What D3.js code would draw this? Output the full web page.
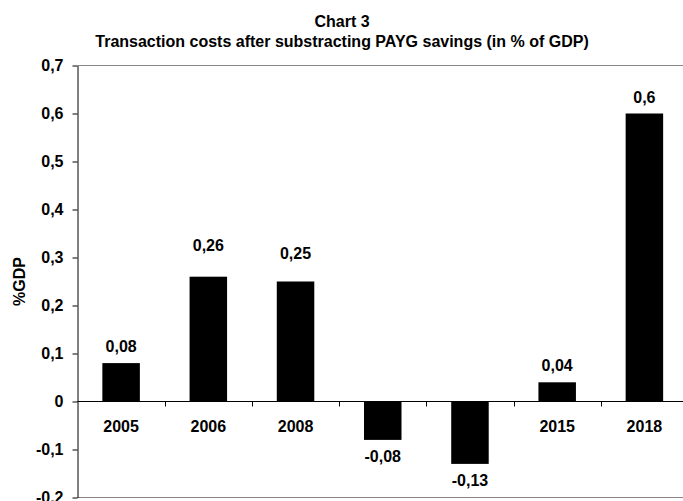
<!DOCTYPE html>
<html>
<head>
<meta charset="utf-8">
<script src="https://cdn.jsdelivr.net/npm/d3@7"></script>
<style>
  body { margin: 0; background: #fff; overflow: hidden; }
  text { font-family: "Liberation Sans", Arial, sans-serif; font-weight: bold; fill: #000; }
</style>
</head>
<body>
<script>
// chart data
var tickLabels = ["2005", "2006", "2008", "", "", "2015", "2018"];
var values = [0.08, 0.26, 0.25, -0.08, -0.13, 0.04, 0.6];
var yTicks = [-0.2, -0.1, 0, 0.1, 0.2, 0.3, 0.4, 0.5, 0.6, 0.7];
var title = "Chart 3";
var subtitle = "Transaction costs after substracting PAYG savings (in % of GDP)";
var yTitle = "%GDP";

var width = 683, height = 501,
    plotLeft = 77.5, plotRight = 688, plotTop = 65.5, plotBottom = 497.5,
    fontSize = 16;

// two labels were dragged up by hand in the original
var labelLift = {1: 15, 2: 12};

var idx = tickLabels.map(function(d, i) { return i; });

var x = d3.scaleBand()
    .domain(idx)
    .range([plotLeft, plotRight])
    .paddingInner(0.57)
    .paddingOuter(0.285);

var xStep = d3.scaleBand()
    .domain(idx)
    .range([plotLeft, plotRight]);

var y = d3.scaleLinear()
    .domain([-0.2, 0.7])
    .range([plotBottom, plotTop]);

var comma = function(d) {
  return d === 0 ? "0" : String(d).replace(".", ",");
};

var svg = d3.select("body").append("svg")
    .attr("width", width)
    .attr("height", height);

// titles
svg.append("text")
    .attr("x", 342)
    .attr("y", 27)
    .attr("text-anchor", "middle")
    .style("font-size", fontSize + "px")
    .text(title);

svg.append("text")
    .attr("x", 342)
    .attr("y", 47)
    .attr("text-anchor", "middle")
    .style("font-size", fontSize + "px")
    .text(subtitle);

// plot frame (grey top / bottom)
svg.append("line")
    .attr("x1", plotLeft).attr("x2", plotRight)
    .attr("y1", plotTop).attr("y2", plotTop)
    .attr("stroke", "#868686");
svg.append("line")
    .attr("x1", plotLeft).attr("x2", plotRight)
    .attr("y1", plotBottom).attr("y2", plotBottom)
    .attr("stroke", "#868686");

// category labels (drawn under the bars)
svg.append("g").selectAll("text")
    .data(idx)
  .enter().append("text")
    .attr("x", function(i) { return x(i) + x.bandwidth() / 2; })
    .attr("y", y(0) + 30)
    .attr("text-anchor", "middle")
    .style("font-size", fontSize + "px")
    .text(function(i) { return tickLabels[i]; });

// bars
svg.append("g").selectAll("rect")
    .data(values)
  .enter().append("rect")
    .attr("x", function(d, i) { return x(i); })
    .attr("width", x.bandwidth())
    .attr("y", function(d) { return y(Math.max(0, d)); })
    .attr("height", function(d) { return Math.abs(y(d) - y(0)); })
    .attr("fill", "#000");

// value labels
svg.append("g").selectAll("text")
    .data(values)
  .enter().append("text")
    .attr("x", function(d, i) { return x(i) + x.bandwidth() / 2; })
    .attr("y", function(d, i) {
      return d >= 0 ? y(d) - 11 - (labelLift[i] || 0) : y(d) + 22;
    })
    .attr("text-anchor", "middle")
    .style("font-size", fontSize + "px")
    .text(function(d) { return comma(d); });

// x axis line + boundary ticks
svg.append("line")
    .attr("x1", plotLeft).attr("x2", plotRight)
    .attr("y1", y(0)).attr("y2", y(0))
    .attr("stroke", "#000");

svg.append("g").selectAll("line")
    .data(idx.slice(1))
  .enter().append("line")
    .attr("x1", function(i) { return Math.round(xStep(i)) + 0.5; })
    .attr("x2", function(i) { return Math.round(xStep(i)) + 0.5; })
    .attr("y1", y(0))
    .attr("y2", y(0) + 5)
    .attr("stroke", "#000");

// y axis
var yAxis = svg.append("g")
    .attr("transform", "translate(" + plotLeft + ",0)")
    .call(d3.axisLeft(y)
      .tickValues(yTicks)
      .tickSize(5)
      .tickSizeOuter(0)
      .tickPadding(9)
      .tickFormat(function(d) { return comma(+d.toFixed(1)); }));

yAxis.select(".domain").attr("stroke", "#000");
yAxis.selectAll("text")
    .attr("font-family", null)
    .style("font-size", fontSize + "px");

svg.append("text")
    .attr("transform", "translate(25," + (plotTop + plotBottom) / 2 + ") rotate(-90)")
    .attr("text-anchor", "middle")
    .style("font-size", fontSize + "px")
    .text(yTitle);
</script>
</body>
</html>
